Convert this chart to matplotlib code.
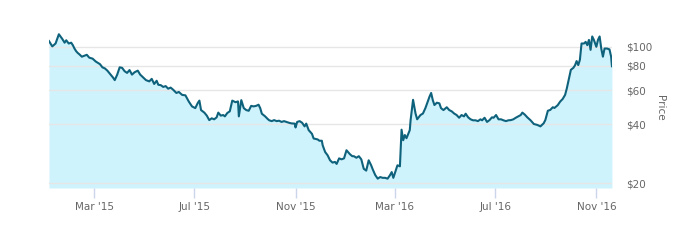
import numpy as np
import pandas as pd
import matplotlib
matplotlib.use("Agg")
import matplotlib.pyplot as plt
from matplotlib.ticker import FixedLocator, FixedFormatter, NullLocator

# price readings (approximate)
dates = [
    "2015-01-05", "2015-01-09", "2015-01-13", "2015-01-17", "2015-01-21", "2015-01-24",
    "2015-01-26", "2015-01-29", "2015-02-01", "2015-02-03", "2015-02-05", "2015-02-07",
    "2015-02-09", "2015-02-11", "2015-02-14", "2015-02-17", "2015-02-20", "2015-02-23",
    "2015-02-27", "2015-03-03", "2015-03-05", "2015-03-08", "2015-03-11", "2015-03-14",
    "2015-03-17", "2015-03-21", "2015-03-24", "2015-03-26", "2015-03-29", "2015-04-01",
    "2015-04-04", "2015-04-07", "2015-04-10", "2015-04-13", "2015-04-16", "2015-04-19",
    "2015-04-23", "2015-04-26", "2015-04-29", "2015-05-03", "2015-05-07", "2015-05-10",
    "2015-05-13", "2015-05-16", "2015-05-18", "2015-05-21", "2015-05-24", "2015-05-27",
    "2015-05-30", "2015-06-02", "2015-06-05", "2015-06-09", "2015-06-12", "2015-06-16",
    "2015-06-20", "2015-06-24", "2015-06-28", "2015-07-02", "2015-07-05", "2015-07-07",
    "2015-07-09", "2015-07-13", "2015-07-16", "2015-07-19", "2015-07-22", "2015-07-25",
    "2015-07-28", "2015-07-30", "2015-08-02", "2015-08-05", "2015-08-07", "2015-08-10",
    "2015-08-13", "2015-08-16", "2015-08-20", "2015-08-23", "2015-08-24", "2015-08-27",
    "2015-08-30", "2015-09-02", "2015-09-05", "2015-09-08", "2015-09-11", "2015-09-14",
    "2015-09-17", "2015-09-19", "2015-09-21", "2015-09-25", "2015-09-28", "2015-09-30",
    "2015-10-03", "2015-10-06", "2015-10-09", "2015-10-12", "2015-10-15", "2015-10-18",
    "2015-10-21", "2015-10-24", "2015-10-27", "2015-10-31", "2015-11-01", "2015-11-03",
    "2015-11-06", "2015-11-09", "2015-11-12", "2015-11-14", "2015-11-17", "2015-11-21",
    "2015-11-23", "2015-11-28", "2015-11-30", "2015-12-03", "2015-12-04", "2015-12-07",
    "2015-12-10", "2015-12-13", "2015-12-16", "2015-12-19", "2015-12-21", "2015-12-24",
    "2015-12-27", "2015-12-30", "2016-01-02", "2016-01-06", "2016-01-09", "2016-01-11",
    "2016-01-14", "2016-01-17", "2016-01-20", "2016-01-23", "2016-01-26", "2016-01-29",
    "2016-02-01", "2016-02-03", "2016-02-06", "2016-02-09", "2016-02-12", "2016-02-15",
    "2016-02-18", "2016-02-21", "2016-02-24", "2016-02-26", "2016-02-28", "2016-03-02",
    "2016-03-04", "2016-03-07", "2016-03-09", "2016-03-11", "2016-03-13", "2016-03-15",
    "2016-03-19", "2016-03-20", "2016-03-23", "2016-03-26", "2016-03-28", "2016-04-01",
    "2016-04-04", "2016-04-07", "2016-04-10", "2016-04-12", "2016-04-14", "2016-04-16",
    "2016-04-18", "2016-04-21", "2016-04-24", "2016-04-26", "2016-04-29", "2016-05-03",
    "2016-05-06", "2016-05-09", "2016-05-12", "2016-05-15", "2016-05-18", "2016-05-21",
    "2016-05-24", "2016-05-26", "2016-05-29", "2016-06-01", "2016-06-04", "2016-06-07",
    "2016-06-10", "2016-06-13", "2016-06-15", "2016-06-18", "2016-06-21", "2016-06-24",
    "2016-06-27", "2016-06-29", "2016-07-02", "2016-07-05", "2016-07-08", "2016-07-11",
    "2016-07-14", "2016-07-17", "2016-07-20", "2016-07-23", "2016-07-26", "2016-07-29",
    "2016-08-01", "2016-08-03", "2016-08-06", "2016-08-09", "2016-08-13", "2016-08-17",
    "2016-08-21", "2016-08-25", "2016-08-29", "2016-08-31", "2016-09-03", "2016-09-06",
    "2016-09-09", "2016-09-11", "2016-09-15", "2016-09-18", "2016-09-21", "2016-09-24",
    "2016-09-26", "2016-09-29", "2016-10-01", "2016-10-04", "2016-10-06", "2016-10-08",
    "2016-10-10", "2016-10-12", "2016-10-14", "2016-10-17", "2016-10-19", "2016-10-21",
    "2016-10-23", "2016-10-25", "2016-10-27", "2016-10-29", "2016-11-01", "2016-11-03",
    "2016-11-05", "2016-11-07", "2016-11-09", "2016-11-11", "2016-11-14", "2016-11-17",
    "2016-11-19", "2016-11-20",
]
prices = [
    107, 100.5, 104, 116, 110, 105,
    108, 104, 105, 102, 98, 95,
    93, 91.5, 89, 90, 91, 88,
    87, 84, 83, 81.5, 78.5, 77.5,
    75.5, 72, 69.5, 67.5, 72, 78.5,
    78, 75, 73.5, 76, 72, 74,
    75.5, 72, 70, 67.5, 66.5, 68.5,
    64.5, 67, 63.9, 63.6, 62.3, 62.9,
    61, 61.8, 60.3, 58, 58.7, 56.7,
    56.4, 52.5, 49.5, 48.5, 51.5, 53,
    47.4, 46, 44.4, 42.1, 43, 42.5,
    43.5, 46, 44.4, 44.7, 44, 45.8,
    46.7, 53, 52, 52.5, 44, 53.3,
    48.5, 47.4, 47, 49.8, 49.5, 49.8,
    50.5, 48.5, 45.4, 44, 42.7, 42,
    41.6, 42.1, 41.6, 41.8, 41.2, 41.6,
    41.2, 40.8, 40.5, 40.4, 38.6, 41.2,
    41.6, 40.8, 39.1, 40.4, 37.4, 35.8,
    33.9, 33.5, 33, 33, 31.3, 28.9,
    27.8, 26.2, 25.5, 25.7, 25.1, 26.8,
    26.5, 26.8, 29.5, 28.2, 27.5, 27.5,
    27, 27.5, 26.5, 23.7, 23.2, 26.2,
    24.7, 23.5, 22, 21.1, 21.5, 21.3,
    21.3, 21.1, 22, 22.8, 21.3, 23.3,
    24.7, 24.4, 37.6, 33.2, 35.3, 34,
    37.4, 42.1, 53.5, 45.5, 42.5, 44.7,
    45.5, 48.5, 52.5, 55.5, 58, 53.3,
    50.3, 51.7, 51.3, 48.5, 47.4, 49,
    47.4, 46.7, 45.5, 44.7, 43.3, 44.7,
    44, 45.4, 43.5, 42.5, 42, 42,
    41.6, 42.5, 42, 43.3, 41.2, 42.1,
    43.5, 43.3, 44.7, 42.5, 42.5, 42,
    41.6, 42, 42.1, 42.5, 43.3, 44,
    44.7, 46, 44.9, 43.5, 42, 40.2,
    39.8, 39.1, 40.6, 42.2, 47, 47.5,
    49, 48.6, 50.2, 52.4, 54, 56.7,
    61, 69.5, 76.2, 78, 80.3, 84.5,
    80.6, 85.8, 104, 104, 106, 102,
    108.5, 96.5, 113, 108.5, 100, 108.5,
    113, 98, 89, 98, 98, 97,
    89, 79.5,
]

ytick_vals = [20, 40, 60, 80, 100]
ytick_labels = ["$20", "$40", "$60", "$80", "$100"]
xtick_dates = ["2015-03-01", "2015-07-01", "2015-11-01", "2016-03-01", "2016-07-01", "2016-11-01"]
xtick_labels = ["Mar '15", "Jul '15", "Nov '15", "Mar '16", "Jul '16", "Nov '16"]

x = pd.to_datetime(dates)
y = np.array(prices)

fig = plt.figure(figsize=(6.95, 2.47), dpi=100)
ax = fig.add_axes([0.0705, 0.239, 0.81, 0.648])

ax.set_yscale("log")
ax.set_ylim(18.9, 125)
ax.set_xlim(x[0], x[-1])

# fill sits under the grid, line on top
ax.fill_between(x, y, 18.9, color="#cff3fd", linewidth=0, zorder=1)
ax.plot(x, y, color="#0f627c", linewidth=1.5, solid_joinstyle="round", zorder=3)

ax.yaxis.tick_right()
ax.yaxis.set_label_position("right")
ax.yaxis.set_major_locator(FixedLocator(ytick_vals))
ax.yaxis.set_major_formatter(FixedFormatter(ytick_labels))
ax.yaxis.set_minor_locator(NullLocator())
ax.tick_params(axis="y", length=0, pad=10, labelsize=7.5, labelcolor="#666666")
ax.set_ylabel("Price", rotation=270, labelpad=9, fontsize=7.5, color="#666666")

ax.set_xticks(pd.to_datetime(xtick_dates))
ax.set_xticklabels(xtick_labels)
ax.xaxis.set_minor_locator(NullLocator())
ax.tick_params(axis="x", length=7, width=1, color="#ccd6eb", pad=3,
               labelsize=7.5, labelcolor="#666666")

ax.set_axisbelow("line")
ax.grid(axis="y", color="#e6e6e6", linewidth=1, zorder=2)
for s in ax.spines.values():
    s.set_visible(False)

fig.savefig("out.png", dpi=100)
